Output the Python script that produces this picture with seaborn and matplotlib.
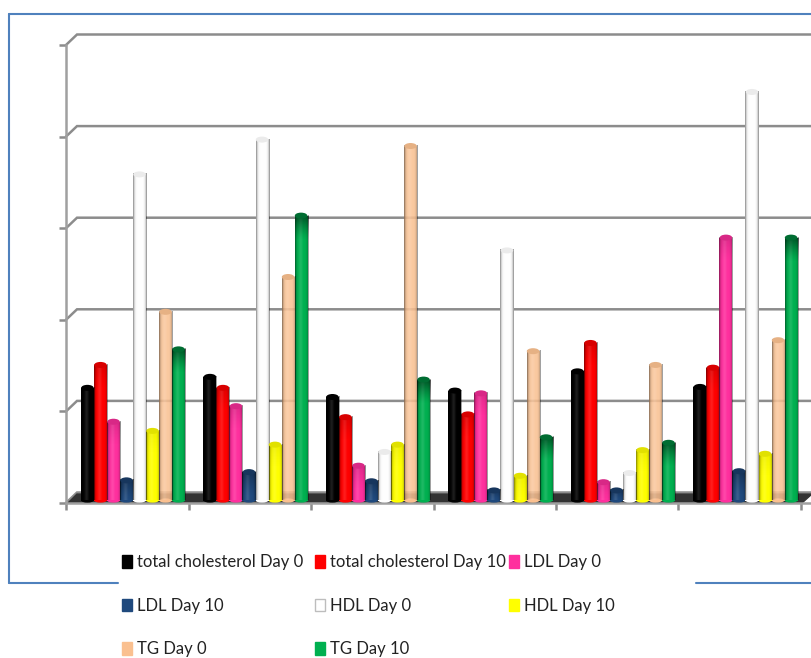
import numpy as np
import pandas as pd
import seaborn as sns
import matplotlib.pyplot as plt
from matplotlib.colors import to_rgb
from matplotlib.lines import Line2D
from matplotlib.patches import Ellipse, Polygon

groups = ["1", "2", "3", "4", "5", "6"]
series = ["total cholesterol Day 0", "total cholesterol Day 10", "LDL Day 0", "LDL Day 10",
          "HDL Day 0", "HDL Day 10", "TG Day 0", "TG Day 10"]
chol_d0 = [1.29, 1.41, 1.19, 1.26, 1.47, 1.30]
chol_d10 = [1.54, 1.29, 0.97, 1.00, 1.78, 1.51]
ldl_d0 = [0.92, 1.09, 0.44, 1.23, 0.26, 2.93]
ldl_d10 = [0.28, 0.37, 0.27, 0.17, 0.17, 0.38]
hdl_d0 = [3.62, 4.00, 0.59, 2.79, 0.36, 4.52]
hdl_d10 = [0.82, 0.67, 0.67, 0.33, 0.61, 0.57]
tg_d0 = [2.12, 2.50, 3.93, 1.69, 1.54, 1.81]
tg_d10 = [1.71, 3.17, 1.38, 0.75, 0.69, 2.93]
colors = ["#000000", "#ff0000", "#ff2f9e", "#1f497d", "#ffffff", "#ffff00", "#fac090", "#00b050"]
# how much each colour darkens towards the top of its bar
top_dark = [0.0, 0.12, 0.12, 0.3, 0.0, 0.06, 0.0, 0.5]

values = [chol_d0, chol_d10, ldl_d0, ldl_d10, hdl_d0, hdl_d10, tg_d0, tg_d10]
df = pd.DataFrame({
    "group": groups * len(series),
    "name": [s for s in series for g in groups],
    "value": np.concatenate(values),
})

W, H = 812, 658
PX_Y = 91.6   # pixels per y unit
PX_X = 122.5  # pixels per category
FONT = ["Lato", "DejaVu Sans"]
GREY = "#a0a0a0"
GRID = "#8c8c8c"

sns.set_style("white")
plt.rcParams["font.family"] = FONT

fig = plt.figure(figsize=(W / 100, H / 100), dpi=100)
ax = fig.add_axes([66 / W, (H - 503) / H, (W - 66) / W, 473 / H])
sns.barplot(data=df, x="group", y="value", hue="name", hue_order=series, palette=colors,
            width=0.85, saturation=1, ax=ax, zorder=3, legend=True, errorbar=None)

x0 = -(133 - 66) / PX_X
xlim = (x0, x0 + (W - 66) / PX_X)
ylim = (0, 473 / PX_Y)
dx, dy = 11 / PX_X, 10.5 / PX_Y

# back wall lines and the floor
for t in range(6):
    ax.plot([x0, x0 + dx, xlim[1]], [t, t + dy, t + dy], color=GRID, lw=1.8, zorder=1,
            solid_joinstyle="miter", clip_on=False)
ax.add_patch(Polygon([(x0 + 2 / PX_X, 0), (x0 + dx, 9 / PX_Y), (xlim[1], 9 / PX_Y), (x0 + (802 - 66) / PX_X, 0)],
                     closed=True, color="#333333", zorder=2))

# cylinder look on each bar
cap = 6 / PX_Y
lift = 2.5 / PX_Y
fade = 24 / PX_Y
shade = np.zeros((1, 64, 4))
u = np.linspace(0, 1, 64)
dark = 0.5 * np.abs(2 * u - 1) ** 5
light = 0.12 * np.exp(-((u - 0.4) / 0.14) ** 2)
shade[0, :, 3] = dark + light
shade[0, :, :3] = (light / (dark + light + 1e-6))[:, None]

for bar_col, strength, cont in zip(colors, top_dark, ax.containers):
    top_fade = np.zeros((32, 1, 4))
    top_fade[:, 0, 3] = strength * np.linspace(1, 0, 32) ** 1.3
    for p in cont:
        b, w, h = p.get_x(), p.get_width(), p.get_height()
        p.set_y(lift)
        p.set_height(h - cap / 2 - lift)
        p.set_linewidth(0)
        if bar_col == "#fac090":
            p.set_alpha(0.85)
        ax.imshow(shade, extent=(b, b + w, lift, h - cap / 2), aspect="auto", zorder=3.1, interpolation="bilinear")
        if strength > 0:
            ax.imshow(top_fade, extent=(b, b + w, max(h - cap / 2 - fade, lift), h - cap / 2), aspect="auto",
                      zorder=3.15, interpolation="bilinear")
        rgb = np.array(to_rgb(bar_col)) * (1 - 0.08 - strength * 0.6)
        ax.add_patch(Ellipse((b + w / 2, h - cap / 2), w * 0.96, cap, color=rgb, zorder=3.2, lw=0))
        ax.add_patch(Ellipse((b + w / 2, lift), w * 0.96, cap * 0.7, color=bar_col, zorder=2.9, lw=0))

ax.set_xlim(*xlim)
ax.set_ylim(*ylim)
ax.set_xlabel("")
ax.set_ylabel("")
ax.set_xticks(x0 + np.arange(7))
ax.set_yticks(range(6))
ax.set_xticklabels([])
ax.set_yticklabels([])
ax.tick_params(axis="both", length=5, width=1.8, color=GRID, left=True, bottom=True)
for side in ["top", "right"]:
    ax.spines[side].set_visible(False)
for side in ["left", "bottom"]:
    ax.spines[side].set_color(GREY)
    ax.spines[side].set_linewidth(1.8)
ax.spines["left"].set_bounds(0, 5)

# legend: one block per column so the columns sit where the reference has them
handles, labels = ax.get_legend_handles_labels()
ax.get_legend().remove()
for h_, col in zip(handles, colors):
    h_.set_edgecolor("#bdbdbd" if col == "#ffffff" else col)
    h_.set_linewidth(1)
for left, idx in [(122, [0, 3, 6]), (315, [1, 4, 7]), (509, [2, 5])]:
    fig.legend([handles[i] for i in idx], [labels[i] for i in idx], frameon=False,
               loc="upper left", bbox_to_anchor=(left / W, 1 - 554 / H),
               prop={"family": FONT, "size": 12}, labelcolor="#222222",
               handlelength=0.6, handleheight=0.8, handletextpad=0.3, labelspacing=1.66,
               borderpad=0, borderaxespad=0)

# blue frame round the picture
for xs, ys in [([9, W], [14, 14]), ([9, 9], [14, 583]), ([9, 118], [583, 583]), ([696, W], [583, 583])]:
    fig.add_artist(Line2D([x / W for x in xs], [1 - y / H for y in ys], color="#4f81bd", lw=1.5))

fig.savefig("out.png", dpi=100)
